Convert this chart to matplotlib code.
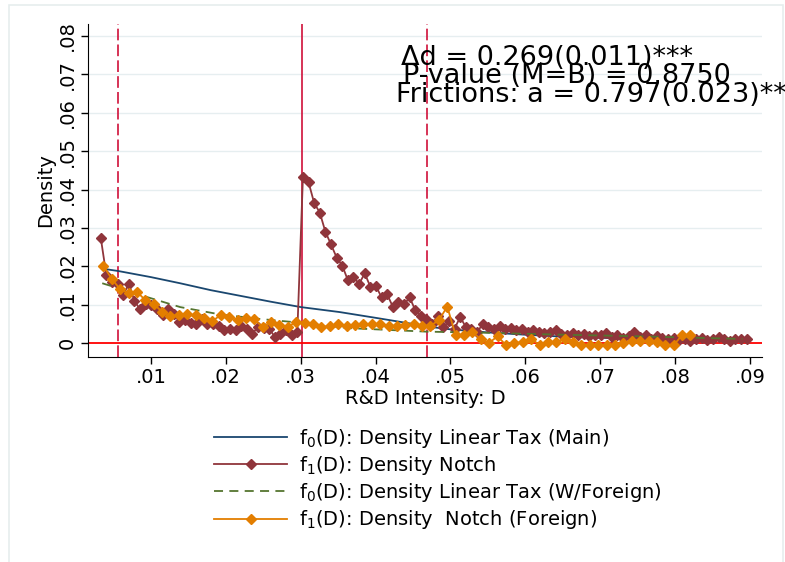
import numpy as np
import matplotlib
matplotlib.use("Agg")
import matplotlib.pyplot as plt
from matplotlib.patches import Rectangle

# smooth counterfactual densities
f0_main_d = [0.0035, 0.0056, 0.010, 0.0139, 0.018, 0.0228, 0.026, 0.030, 0.0352, 0.040,
             0.045, 0.047, 0.050, 0.055, 0.060, 0.065, 0.070, 0.075, 0.080, 0.085, 0.089]
f0_main = [0.0194, 0.0188, 0.0172, 0.0156, 0.0138, 0.0120, 0.0108, 0.0094, 0.0081, 0.0066,
           0.0050, 0.0043, 0.0036, 0.0028, 0.0022, 0.0017, 0.0014, 0.0011, 0.0009, 0.0008, 0.0007]

f0_for_d = [0.0035, 0.0095, 0.0139, 0.0192, 0.0246, 0.029, 0.0366, 0.0468, 0.055,
            0.065, 0.075, 0.085, 0.089]
f0_for = [0.0156, 0.0120, 0.0094, 0.0075, 0.0063, 0.0055, 0.0039, 0.0030, 0.0027,
          0.0022, 0.0018, 0.0013, 0.0011]

# binned densities with notch
notch_start, notch_width = 0.0033, 0.00075
f1_main = [0.0275, 0.0177, 0.0160, 0.0155, 0.0125, 0.0155, 0.0110, 0.0088, 0.0103, 0.0099,
           0.0090, 0.0073, 0.0088, 0.0077, 0.0056, 0.0060, 0.0053, 0.0049, 0.0062, 0.0051,
           0.0051, 0.0044, 0.0034, 0.0038, 0.0034, 0.0044, 0.0038, 0.0025, 0.0042, 0.0040,
           0.0038, 0.0016, 0.0023, 0.0034, 0.0021, 0.0029,
           0.0433, 0.0419, 0.0365, 0.0340, 0.0290, 0.0257, 0.0223, 0.0202, 0.0164, 0.0173,
           0.0154, 0.0182, 0.0147, 0.0149, 0.0119, 0.0127, 0.0095, 0.0108, 0.0101, 0.0119,
           0.0086, 0.0071, 0.0062, 0.0051, 0.0070, 0.0042, 0.0057, 0.0038, 0.0068, 0.0042,
           0.0038, 0.0029, 0.0049, 0.0042, 0.0038,
           0.0046, 0.0036, 0.0040, 0.0034, 0.0038, 0.0030, 0.0034, 0.0028, 0.0026, 0.0030,
           0.0034, 0.0024, 0.0022, 0.0026, 0.0020, 0.0024, 0.0018, 0.0022, 0.0020, 0.0026,
           0.0016, 0.0020, 0.0014, 0.0018, 0.0028, 0.0016, 0.0020, 0.0012, 0.0018, 0.0014,
           0.0010, 0.0014, 0.0008, 0.0012, 0.0006, 0.0010, 0.0014, 0.0008, 0.0012, 0.0016,
           0.0010, 0.0006, 0.0010, 0.0012, 0.0010]

for_start, for_width = 0.00365, 0.00112
f1_for = [0.0201, 0.0168, 0.0140, 0.0131, 0.0134, 0.0112, 0.0102, 0.0082, 0.0071, 0.0073,
          0.0075, 0.0073, 0.0066, 0.0058, 0.0073, 0.0067, 0.0060, 0.0066, 0.0062, 0.0042,
          0.0056, 0.0047, 0.0042, 0.0056,
          0.0053, 0.0051, 0.0042, 0.0045, 0.0049, 0.0044, 0.0048, 0.0051, 0.0049, 0.0049,
          0.0046, 0.0045, 0.0048, 0.0049, 0.0046, 0.0045, 0.0060, 0.0095, 0.0021, 0.0021,
          0.0029,
          0.0010, 0.0001, 0.0018, -0.0005, 0.0000, 0.0003, 0.0012, -0.0005, 0.0003, 0.0003,
          0.0012, 0.0003, -0.0005, -0.0005, -0.0005, -0.0005, -0.0005, 0.0000, 0.0005, 0.0005,
          0.0005, 0.0003, -0.0005, -0.0005, 0.0021, 0.0021]

notch_d = notch_start + notch_width * np.arange(len(f1_main))
for_d = for_start + for_width * np.arange(len(f1_for))

bounds_lo, notch_at, bounds_hi = 0.0056, 0.0302, 0.0469

xticks = [0.01, 0.02, 0.03, 0.04, 0.05, 0.06, 0.07, 0.08, 0.09]
xlabels = ['.01', '.02', '.03', '.04', '.05', '.06', '.07', '.08', '.09']
yticks = [0, 0.01, 0.02, 0.03, 0.04, 0.05, 0.06, 0.07, 0.08]
ylabels = ['0', '.01', '.02', '.03', '.04', '.05', '.06', '.07', '.08']

navy = '#1a476f'
maroon = '#90353b'
green = '#55752f'
orange = '#e37e00'
crimson = '#d0103a'

fig = plt.figure(figsize=(7.85, 5.62), dpi=100)
fig.patches.append(Rectangle((9/785, -0.05), 774/785, 1.05 - 5/562,
                             transform=fig.transFigure, fill=False,
                             edgecolor='#e6eeee', lw=1.2))
ax = fig.add_axes([88/785, 1 - 357/562, 674/785, 333/562])

for yv in yticks[1:]:
    ax.axhline(yv, color='#e6eef0', lw=1.0, zorder=0)

ax.axvline(bounds_lo, color=crimson, lw=1.2, ls=(0, (7, 2.5)), zorder=1)
ax.axvline(notch_at, color=crimson, lw=1.2, zorder=1)
ax.axvline(bounds_hi, color=crimson, lw=1.2, ls=(0, (7, 2.5)), zorder=1)
ax.axhline(0, color='#ff0000', lw=1.3, zorder=1.5)

ax.plot(f0_main_d, f0_main, color=navy, lw=1.3, zorder=2,
        label='f$_0$(D): Density Linear Tax (Main)')
ax.plot(notch_d, f1_main, color=maroon, lw=1.3, marker='D', ms=5.5, zorder=3,
        label='f$_1$(D): Density Notch')
ax.plot(f0_for_d, f0_for, color=green, lw=1.3, ls=(0, (5, 3.5)), zorder=4,
        label='f$_0$(D): Density Linear Tax (W/Foreign)')
ax.plot(for_d, f1_for, color=orange, lw=1.3, marker='D', ms=5.5, zorder=5,
        label='f$_1$(D): Density  Notch (Foreign)')

ax.set_xlim(0.0016, 0.0916)
ax.set_ylim(-0.0036, 0.0831)
ax.set_xticks(xticks)
ax.set_xticklabels(xlabels, fontsize=14)
ax.set_yticks(yticks)
ax.set_yticklabels(ylabels, fontsize=14, rotation=90, va='center')
ax.tick_params(direction='out', length=5, width=1, pad=3)
ax.spines['top'].set_visible(False)
ax.spines['right'].set_visible(False)
ax.set_xlabel('R&D Intensity: D', fontsize=14, labelpad=1)
ax.set_ylabel('Density', fontsize=14, labelpad=2)

fig.text(401/785, 1 - 65/562, 'Δd = 0.269(0.011)***', fontsize=19.5, va='baseline')
fig.text(403/785, 1 - 83/562, 'P-value (M=B) = 0.8750', fontsize=19.5, va='baseline')
fig.text(396/785, 1 - 102/562, 'Frictions: a = 0.797(0.023)***', fontsize=19.5, va='baseline')

fig.legend(loc='center', bbox_to_anchor=(438/785, 1 - 479/562), frameon=False,
           fontsize=14, handlelength=3.75, handletextpad=0.6, labelspacing=0.22)

fig.savefig('out.png', dpi=100)
